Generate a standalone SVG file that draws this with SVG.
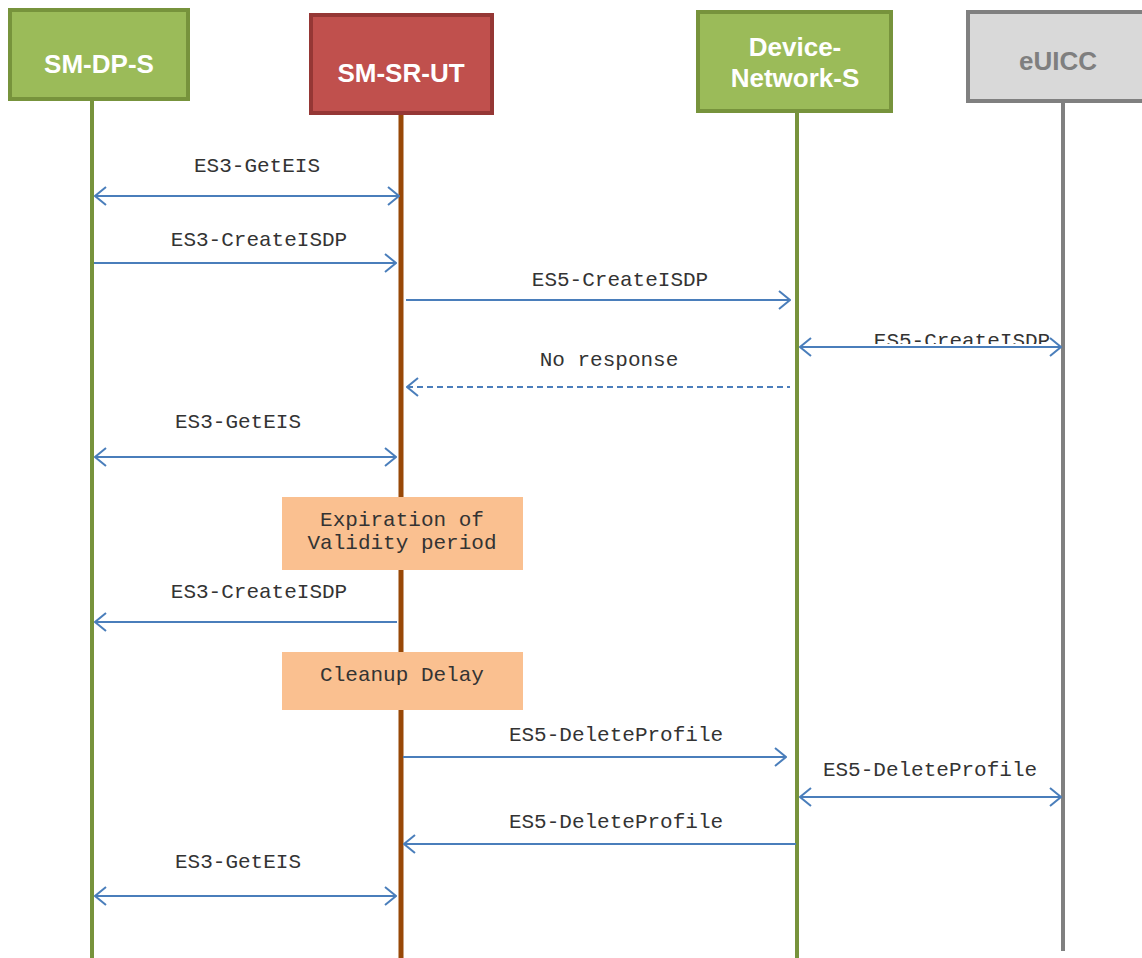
<svg xmlns="http://www.w3.org/2000/svg" width="1142" height="958" viewBox="0 0 1142 958">
<style>
.hd{font-family:"Liberation Sans",Arial,sans-serif;font-weight:bold;font-size:26px;fill:#fff;text-anchor:middle}
.lbl{font-family:"Liberation Mono","Courier New",monospace;font-size:21px;fill:#333;text-anchor:middle}
.msg{stroke:#4a7ebb;stroke-width:2;fill:none}
.note{fill:#fac090}
</style>
<defs>
<marker id="ah" viewBox="0 0 13 20" refX="12" refY="10" markerWidth="13" markerHeight="20" markerUnits="userSpaceOnUse" orient="auto-start-reverse">
<path d="M1,1 L12,10 L1,19" fill="none" stroke="#4a7ebb" stroke-width="2"/>
</marker>
<clipPath id="clipT"><rect x="780" y="320" width="300" height="24"/></clipPath>
</defs>
<rect width="1142" height="958" fill="#fff"/>
<g id="lifelines">
<line x1="92" y1="100" x2="92" y2="958" stroke="#77933c" stroke-width="4"/>
<line x1="401" y1="114" x2="401" y2="958" stroke="#984807" stroke-width="5"/>
<line x1="797" y1="112" x2="797" y2="958" stroke="#77933c" stroke-width="4"/>
<line x1="1063" y1="102" x2="1063" y2="951" stroke="#808080" stroke-width="4"/>
</g>
<g id="smdps">
<rect x="10" y="10" width="178" height="89" fill="#9bbb59" stroke="#77933c" stroke-width="4"/>
<text class="hd" x="99" y="73">SM-DP-S</text>
</g>
<g id="smsrut">
<rect x="311" y="15" width="181" height="98" fill="#c0504d" stroke="#953735" stroke-width="4"/>
<text class="hd" x="401" y="82">SM-SR-UT</text>
</g>
<g id="devnet">
<rect x="698" y="12" width="193" height="99" fill="#9bbb59" stroke="#77933c" stroke-width="4"/>
<text class="hd" x="795" y="56">Device-</text>
<text class="hd" x="795" y="87">Network-S</text>
</g>
<g id="euicc">
<rect x="968" y="12" width="180" height="89" fill="#d9d9d9" stroke="#808080" stroke-width="4"/>
<text class="hd" x="1058" y="70" style="fill:#7f7f7f">eUICC</text>
</g>
<g id="note1">
<rect class="note" x="282" y="497" width="241" height="73"/>
<text class="lbl" x="402" y="526">Expiration of</text>
<text class="lbl" x="402" y="549">Validity period</text>
</g>
<g id="note2">
<rect class="note" x="282" y="652" width="241" height="58"/>
<text class="lbl" x="402" y="681">Cleanup Delay</text>
</g>
<g id="connectors">
<line class="msg" x1="95" y1="196" x2="399" y2="196" marker-start="url(#ah)" marker-end="url(#ah)"/>
<text class="lbl" x="257" y="172">ES3-GetEIS</text>
<line class="msg" x1="94" y1="263" x2="396" y2="263" marker-end="url(#ah)"/>
<text class="lbl" x="259" y="246">ES3-CreateISDP</text>
<line class="msg" x1="406" y1="300" x2="790" y2="300" marker-end="url(#ah)"/>
<text class="lbl" x="620" y="286">ES5-CreateISDP</text>
<line class="msg" x1="800" y1="347" x2="1061" y2="347" marker-start="url(#ah)" marker-end="url(#ah)"/>
<text class="lbl" x="962" y="347" clip-path="url(#clipT)">ES5-CreateISDP</text>
<line class="msg" x1="407" y1="387" x2="790" y2="387" stroke-dasharray="6,4" marker-start="url(#ah)"/>
<text class="lbl" x="609" y="366">No response</text>
<line class="msg" x1="95" y1="457" x2="396" y2="457" marker-start="url(#ah)" marker-end="url(#ah)"/>
<text class="lbl" x="238" y="428">ES3-GetEIS</text>
<line class="msg" x1="95" y1="622" x2="397" y2="622" marker-start="url(#ah)"/>
<text class="lbl" x="259" y="598">ES3-CreateISDP</text>
<line class="msg" x1="403" y1="757" x2="786" y2="757" marker-end="url(#ah)"/>
<text class="lbl" x="616" y="741">ES5-DeleteProfile</text>
<line class="msg" x1="800" y1="797" x2="1061" y2="797" marker-start="url(#ah)" marker-end="url(#ah)"/>
<text class="lbl" x="930" y="776">ES5-DeleteProfile</text>
<line class="msg" x1="404" y1="844" x2="796" y2="844" marker-start="url(#ah)"/>
<text class="lbl" x="616" y="828">ES5-DeleteProfile</text>
<line class="msg" x1="95" y1="896" x2="396" y2="896" marker-start="url(#ah)" marker-end="url(#ah)"/>
<text class="lbl" x="238" y="868">ES3-GetEIS</text>
</g>
</svg>
